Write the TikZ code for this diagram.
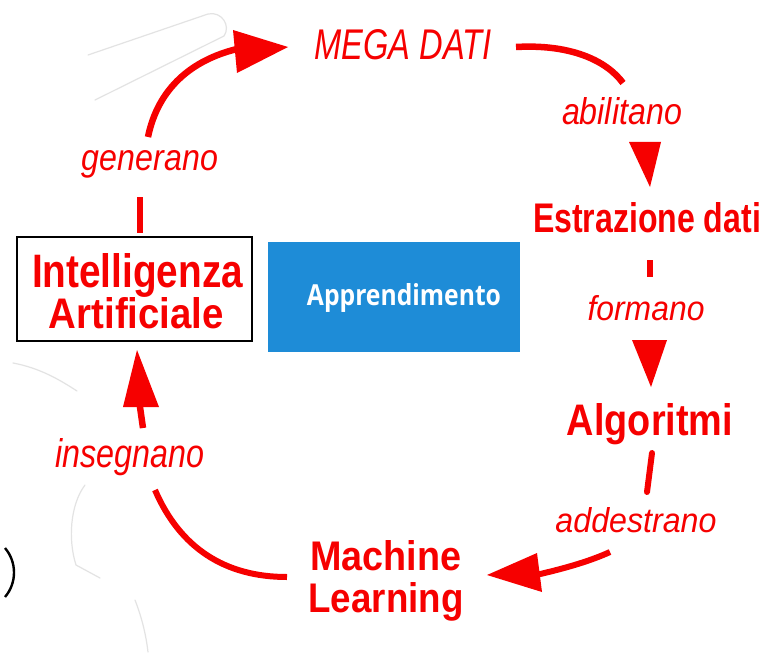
\documentclass[tikz,border=0pt]{standalone}
\usepackage{fontspec}
\setmainfont{Liberation Sans}
\newfontfamily\appfont{Open Sans}
\definecolor{mred}{RGB}{246,0,0}
\definecolor{mblue}{RGB}{30,140,215}
\newcommand{\fitbox}[3]{\resizebox{#1pt}{#2pt}{#3}}
\begin{document}
\begin{tikzpicture}[x=1pt,y=-1pt,
  lbl/.style={inner sep=0pt, anchor=base, text=mred, font=\itshape},
  keyw/.style={inner sep=0pt, anchor=base, text=mred, font=\bfseries},
  link/.style={draw=mred, line width=6.5pt},
  dashbar/.style={draw=mred, line width=5.5pt},
  head/.style={fill=mred},
  faint/.style={draw=black!11, line width=1.2pt, line cap=round}]
\useasboundingbox (0,0) rectangle (767,655);
\fill[white] (0,0) rectangle (767,655);

% faint background strokes
\draw[faint] (88,55) -- (208,14) .. controls (222,11) and (231,26) .. (224,36) -- (95,100);
\draw[faint] (13,363) .. controls (40,368) and (60,380) .. (77,391);
\draw[faint] (85,485) .. controls (70,505) and (68,540) .. (76,565) -- (100,578);
\draw[faint] (135,600) .. controls (142,618) and (146,635) .. (148,652);
\draw[black, line width=2.4pt] (5,548) .. controls (17,562) and (17,583) .. (5,597);

% boxes
\node[draw=black, line width=1.8pt, minimum width=235pt, minimum height=104pt, inner sep=0pt] (aibox) at (134.5,289) {};
\node[fill=mblue, minimum width=252pt, minimum height=110pt, inner sep=0pt] (appbox) at (394,297) {};
\node[anchor=base, text=white, font=\appfont\bfseries, inner sep=0pt] (apptext) at (404,305) {\fitbox{194}{22}{Apprendimento}};

% texts
\node[lbl] (mega) at (403,60) {\fitbox{177}{30}{MEGA DATI}};
\node[lbl] (abil) at (622,125) {\fitbox{120}{27}{abilitano}};
\node[keyw] (estr) at (647,232) {\fitbox{228}{30}{Estrazione dati}};
\node[lbl] (form) at (646,320) {\fitbox{117}{25}{formano}};
\node[keyw] (algo) at (650,435) {\fitbox{166}{32}{Algoritmi}};
\node[lbl] (adde) at (636,532) {\fitbox{161}{25}{addestrano}};
\node[keyw] (mach) at (386,570) {\fitbox{151}{30}{Machine}};
\node[keyw] (lear) at (386,612) {\fitbox{155}{30}{Learning}};
\node[lbl] (inse) at (130,467) {\fitbox{149}{29}{insegnano}};
\node[lbl] (gene) at (150,170) {\fitbox{136}{20}{generano}};
\node[keyw] (intel) at (137.5,287) {\fitbox{211}{34}{Intelligenza}};
\node[keyw] (arti) at (136.5,328) {\fitbox{175}{31}{Artificiale}};

% connectors
\coordinate (g1) at (148,137); \coordinate (g2) at (237,49);
\draw[link] (g1) .. controls (158,88) and (192,60) .. (g2);
\fill[head] (233,30) -- (288,47) -- (237,73) -- cycle;
\coordinate (d1) at (140,197); \coordinate (d2) at (140,233);
\draw[dashbar] (d1) -- (d2);

\coordinate (m1) at (516,47); \coordinate (m2) at (623,83);
\draw[link] (m1) .. controls (570,44) and (606,60) .. (m2);
\fill[head] (629,142) -- (661,142) -- (650,187) -- cycle;

\coordinate (e1) at (650,260); \coordinate (e2) at (650,277);
\draw[dashbar] (e1) -- (e2);
\fill[head] (632,340) -- (667,340) -- (651,387) -- cycle;

\coordinate (a1) at (652,453); \coordinate (a2) at (647,492);
\draw[link, line width=6pt, line cap=round] (a1) -- (a2);

\coordinate (t1) at (610,552); \coordinate (t2) at (536,575);
\draw[link, line width=6pt] (t1) .. controls (588,562) and (562,569) .. (t2);
\fill[head] (487,575) -- (537,553) -- (542,592) -- cycle;

\coordinate (l1) at (287,577); \coordinate (l2) at (155,490);
\draw[link, line width=6pt] (l1) .. controls (225,577) and (180,548) .. (l2);

\coordinate (u1) at (143,428); \coordinate (u2) at (139,400);
\draw[link, line width=6.5pt] (u1) -- (u2);
\fill[head] (123,407) -- (159,407) -- (137,350) -- cycle;
\end{tikzpicture}
\end{document}
